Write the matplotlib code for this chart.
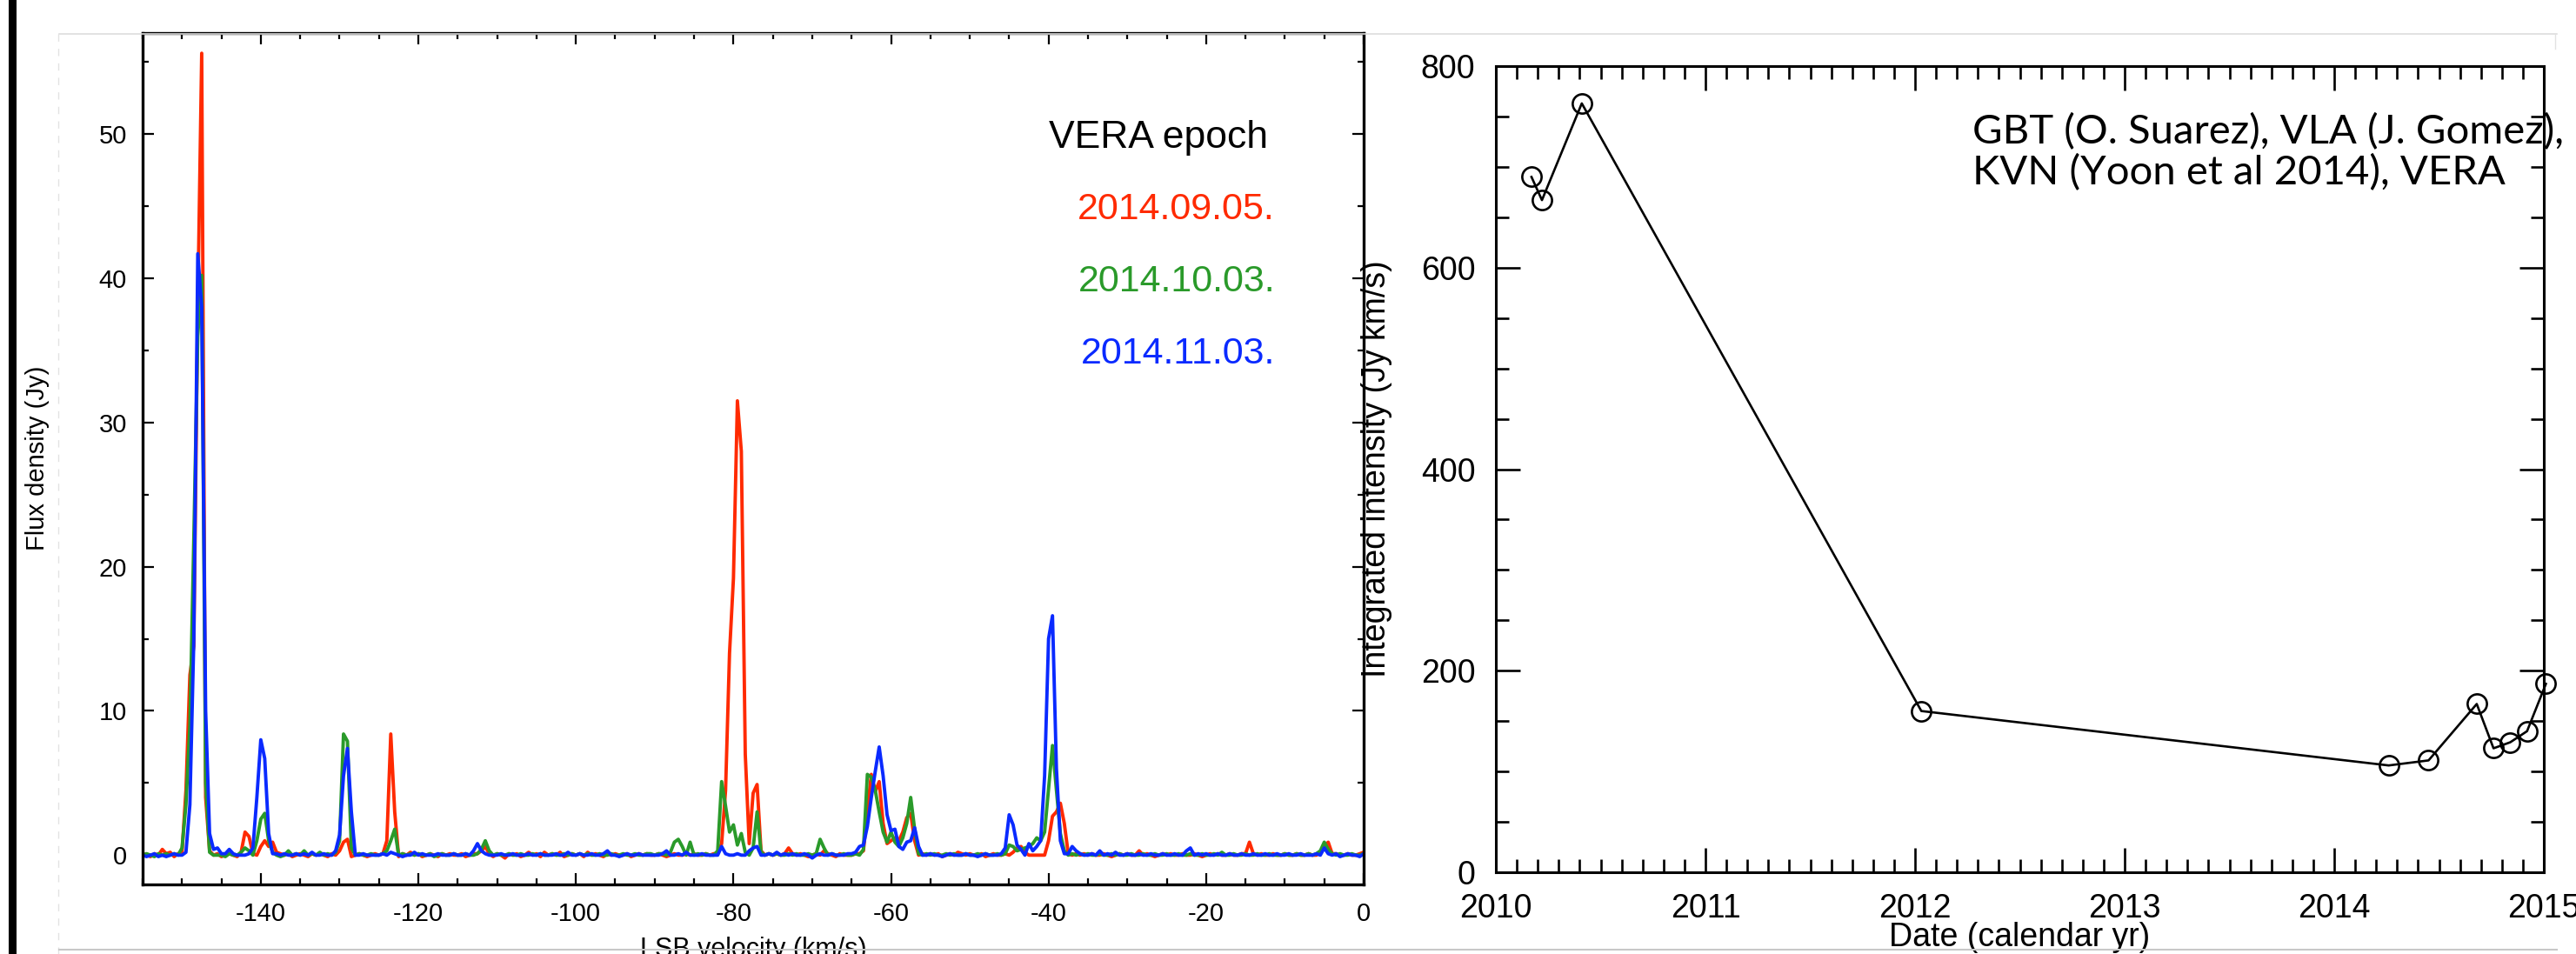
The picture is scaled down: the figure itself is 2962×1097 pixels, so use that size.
import numpy as np
import matplotlib
matplotlib.use("Agg")
import matplotlib.pyplot as plt
from matplotlib.ticker import MultipleLocator, FormatStrFormatter
from matplotlib.lines import Line2D

plt.rcParams['font.family'] = ['Liberation Sans', 'DejaVu Sans']
plt.rcParams['axes.unicode_minus'] = False

# --- left panel: VERA spectra (0.5 km/s channels from -155 to 0 km/s) ---
velocity = np.arange(-155.0, 0.01, 0.5)

flux_0905 = [
    0.1, 0.0, -0.1, 0.1, 0.0, 0.4, 0.1, 0.2, -0.1, 0.1,
    0.2, 4.5, 12.5, 14.5, 38.0, 55.6, 4.0, 0.3, 0.0, 0.1,
    -0.1, 0.0, 0.1, 0.0, -0.1, 0.2, 1.6, 1.3, 0.1, 0.0,
    0.6, 1.0, 0.6, 0.9, 0.2, 0.1, 0.0, 0.1, -0.1, 0.0,
    0.1, 0.0, -0.1, 0.1, 0.0, 0.1, 0.0, -0.1, 0.1, 0.0,
    0.3, 0.9, 1.1, -0.1, 0.0, 0.1, 0.0, -0.1, 0.0, 0.1,
    0.0, 0.1, 1.0, 8.4, 3.0, -0.1, 0.1, 0.0, 0.2, 0.0,
    0.1, -0.1, 0.0, 0.1, 0.0, -0.1, 0.1, 0.0, 0.1, 0.0,
    0.0, 0.1, -0.1, 0.0, 0.1, 0.1, 0.3, 0.6, 0.1, -0.1,
    0.1, 0.0, -0.2, 0.1, 0.0, 0.1, -0.1, 0.0, 0.2, 0.0,
    0.1, -0.1, 0.2, 0.0, 0.1, 0.0, 0.2, -0.1, 0.0, 0.1,
    0.0, 0.1, -0.1, 0.2, 0.0, 0.1, 0.0, -0.1, 0.1, 0.0,
    0.1, 0.0, 0.0, 0.1, -0.1, 0.0, 0.1, 0.0, 0.1, 0.0,
    0.0, 0.1, 0.0, -0.1, 0.0, 0.1, 0.0, 0.0, 0.1, 0.0,
    0.1, 0.0, 0.0, 0.1, 0.0, 0.1, 0.1, 0.8, 4.5, 14.0,
    19.2, 31.5, 28.0, 7.0, 0.8, 4.3, 4.9, 0.3, 0.0, 0.1,
    0.0, 0.1, 0.0, 0.1, 0.5, 0.1, 0.0, 0.1, 0.0, -0.1,
    0.0, 0.1, 0.0, 0.3, 0.1, 0.0, -0.1, 0.1, 0.0, 0.0,
    0.0, 0.1, 0.1, 0.3, 3.0, 5.6, 4.4, 5.1, 2.2, 0.8,
    1.0, 1.2, 1.0, 1.6, 2.6, 2.9, 1.0, 0.0, 0.1, 0.0,
    0.1, 0.0, 0.1, -0.1, 0.0, 0.1, 0.0, 0.2, 0.1, 0.0,
    0.1, 0.0, 0.0, 0.1, -0.1, 0.0, 0.1, 0.0, 0.0, 0.1,
    0.0, 0.2, 0.5, 0.6, 0.2, 0.0, 0.0, 0.0, 0.0, 0.0,
    1.0, 2.7, 3.0, 3.6, 2.2, 0.1, 0.0, 0.1, 0.0, 0.1,
    0.0, 0.1, 0.0, 0.0, 0.1, 0.0, -0.1, 0.0, 0.1, 0.0,
    0.1, 0.0, 0.0, 0.3, 0.0, 0.1, 0.0, -0.1, 0.0, 0.1,
    0.0, 0.1, 0.0, 0.0, 0.1, 0.0, 0.0, 0.1, 0.0, -0.1,
    0.0, 0.1, 0.0, 0.1, 0.0, 0.0, 0.1, 0.0, 0.0, 0.1,
    0.1, 0.9, 0.1, 0.0, 0.1, 0.0, 0.0, 0.1, 0.0, 0.0,
    0.1, 0.0, 0.0, 0.1, 0.0, 0.0, 0.1, 0.0, 0.0, 0.2,
    0.6, 0.9, 0.1, 0.1, 0.0, 0.0, 0.1, 0.0, 0.0, 0.1,
    0.2,
]

flux_1003 = [
    0.0, 0.1, 0.0, -0.1, 0.1, 0.0, 0.1, 0.0, 0.1, 0.0,
    0.5, 3.5, 9.0, 22.0, 36.0, 40.2, 5.0, 0.2, 0.0, 0.0,
    0.0, -0.1, 0.1, 0.0, 0.0, 0.2, 0.5, 0.3, 0.0, 1.0,
    2.5, 2.9, 1.0, 0.2, 0.0, -0.1, 0.0, 0.3, 0.0, 0.1,
    0.0, 0.3, 0.0, 0.1, 0.0, 0.2, 0.0, 0.1, 0.0, 0.2,
    1.0, 8.4, 7.9, 0.5, 0.0, 0.1, 0.0, 0.0, 0.1, 0.0,
    0.0, 0.1, 0.3, 1.0, 1.8, 0.0, 0.1, 0.0, 0.1, 0.0,
    0.1, 0.0, 0.0, 0.1, -0.1, 0.0, 0.1, 0.0, 0.0, 0.1,
    0.0, 0.0, 0.1, 0.0, 0.0, 0.1, 0.4, 1.0, 0.3, 0.0,
    0.1, 0.0, 0.0, 0.1, 0.0, 0.0, 0.1, 0.0, 0.0, 0.1,
    0.0, 0.1, 0.0, 0.0, 0.1, 0.0, 0.0, 0.1, 0.0, 0.1,
    0.0, 0.1, 0.0, 0.1, 0.0, 0.0, 0.1, 0.0, 0.0, 0.1,
    0.0, 0.0, 0.1, 0.0, 0.0, 0.1, 0.0, 0.0, 0.1, 0.1,
    0.0, 0.1, 0.1, 0.0, 0.2, 0.9, 1.1, 0.6, 0.0, 0.9,
    0.0, 0.1, 0.0, 0.1, 0.0, 0.0, 0.3, 5.1, 3.4, 1.6,
    2.1, 0.7, 1.5, 0.2, 0.0, 0.5, 3.0, 0.2, 0.0, 0.1,
    0.0, 0.1, 0.0, 0.0, 0.1, 0.0, 0.1, 0.0, 0.0, 0.1,
    0.0, 0.1, 1.1, 0.5, 0.0, 0.1, 0.0, 0.0, 0.1, 0.0,
    0.0, 0.1, 0.0, 0.4, 5.6, 5.4, 4.5, 3.0, 1.6, 0.9,
    1.6, 0.9, 0.6, 1.2, 2.2, 4.0, 1.8, 0.1, 0.0, 0.1,
    0.0, 0.1, 0.0, 0.0, 0.1, 0.0, 0.1, 0.0, 0.0, 0.1,
    0.0, 0.0, 0.1, 0.0, 0.1, 0.0, 0.0, 0.1, 0.0, 0.1,
    0.7, 0.6, 0.3, 0.4, 0.5, 0.6, 0.8, 1.2, 1.0, 1.6,
    4.6, 7.6, 4.5, 1.5, 0.3, 0.0, 0.1, 0.0, 0.1, 0.0,
    0.1, 0.0, 0.0, 0.1, 0.0, 0.0, 0.1, 0.0, 0.1, 0.0,
    0.0, 0.1, 0.0, 0.0, 0.1, 0.0, 0.0, 0.1, 0.0, 0.0,
    0.1, 0.0, 0.0, 0.1, 0.0, 0.0, 0.1, 0.0, 0.0, 0.1,
    0.0, 0.0, 0.1, 0.0, 0.2, 0.0, 0.0, 0.1, 0.0, 0.0,
    0.1, 0.0, 0.0, 0.1, 0.0, 0.0, 0.1, 0.0, 0.0, 0.0,
    0.1, 0.0, 0.0, 0.1, 0.0, 0.0, 0.1, 0.0, 0.1, 0.3,
    0.9, 0.4, 0.1, 0.0, 0.1, 0.0, 0.0, 0.1, 0.0, 0.0,
    0.1,
]

flux_1103 = [
    0.0, -0.1, 0.0, 0.1, -0.1, 0.0, -0.1, 0.0, 0.1, 0.0,
    0.0, 0.2, 3.5, 15.0, 41.7, 38.0, 10.0, 1.5, 0.4, 0.5,
    0.1, 0.1, 0.4, 0.1, 0.0, 0.0, 0.0, 0.1, 0.5, 4.0,
    8.0, 6.7, 1.5, 0.1, 0.1, 0.0, 0.1, 0.0, 0.0, 0.1,
    0.0, 0.1, 0.0, 0.2, 0.0, 0.0, 0.1, 0.0, 0.0, 0.3,
    1.4, 5.5, 7.4, 3.0, 0.0, 0.0, 0.1, 0.0, 0.0, 0.0,
    0.0, 0.1, 0.0, 0.2, 0.1, 0.0, -0.1, 0.0, 0.0, 0.2,
    0.0, 0.1, 0.0, 0.0, 0.0, 0.1, 0.0, 0.0, 0.0, 0.1,
    0.0, 0.0, 0.1, 0.0, 0.3, 0.8, 0.3, 0.1, 0.0, 0.0,
    0.0, 0.1, 0.0, 0.0, 0.1, 0.0, 0.0, 0.0, 0.1, 0.0,
    0.0, 0.1, 0.0, 0.0, 0.0, 0.1, 0.0, 0.0, 0.2, 0.0,
    0.0, 0.1, 0.0, 0.0, 0.1, 0.0, 0.0, 0.1, 0.3, 0.0,
    0.0, -0.1, 0.0, 0.1, 0.0, 0.0, 0.1, 0.0, 0.0, 0.0,
    0.0, 0.0, 0.1, 0.3, 0.0, 0.0, 0.1, 0.0, 0.2, 0.0,
    0.0, 0.0, 0.1, 0.0, 0.0, 0.0, 0.0, 0.6, 0.1, 0.0,
    0.0, 0.1, 0.0, 0.0, 0.3, 0.5, 0.6, 0.0, 0.0, 0.1,
    0.0, 0.2, 0.0, 0.1, 0.0, 0.1, 0.0, 0.0, 0.1, 0.0,
    -0.2, 0.0, 0.1, 0.0, 0.0, 0.1, 0.0, 0.0, 0.0, 0.1,
    0.1, 0.2, 0.6, 0.7, 2.0, 4.0, 5.8, 7.5, 5.5, 2.8,
    1.7, 1.8, 0.6, 0.4, 0.9, 1.0, 1.9, 0.6, 0.0, 0.0,
    0.1, 0.0, 0.0, -0.1, 0.0, 0.1, 0.0, 0.0, 0.0, 0.1,
    0.0, 0.0, -0.1, 0.0, 0.1, 0.0, 0.0, 0.0, 0.1, 0.5,
    2.8, 2.1, 0.7, 0.4, 0.0, 0.8, 0.3, 0.6, 1.0, 5.5,
    15.0, 16.6, 6.0, 1.0, 0.1, 0.1, 0.6, 0.3, 0.1, 0.0,
    0.0, 0.1, 0.0, 0.3, 0.0, 0.1, 0.0, 0.2, 0.0, 0.0,
    0.1, 0.0, 0.0, 0.1, 0.0, 0.0, 0.1, 0.0, 0.0, 0.1,
    0.0, 0.0, 0.1, 0.0, 0.0, 0.3, 0.5, 0.0, 0.1, 0.0,
    0.1, 0.0, 0.0, 0.1, 0.0, 0.0, 0.1, 0.0, 0.0, 0.1,
    0.0, 0.0, 0.1, 0.0, 0.0, 0.1, 0.0, 0.0, 0.1, 0.0,
    0.0, 0.1, 0.0, 0.0, 0.1, 0.0, 0.0, 0.0, 0.1, 0.0,
    0.5, 0.1, 0.0, 0.1, -0.1, 0.0, 0.1, 0.0, 0.0, -0.1,
    0.1,
]

epochs = ["2014.09.05.", "2014.10.03.", "2014.11.03."]
epoch_colors = ["#ff2a00", "#2a9a2a", "#0a2aff"]

# --- right panel: integrated intensity history ---
obs_year = [2010.17, 2010.22, 2010.41, 2012.03, 2014.26, 2014.45,
            2014.68, 2014.76, 2014.84, 2014.92, 2015.01]
integrated = [690, 667, 763, 160, 106, 111, 167, 123, 129, 140, 187]

W, H = 2962, 1097
fig = plt.figure(figsize=(W / 100, H / 100), dpi=100)

def px_axes(left, right, top, bottom):
    return fig.add_axes([left / W, 1 - bottom / H, (right - left) / W, (bottom - top) / H])

# slide decorations (frame around the pasted figures)
fig.add_artist(Line2D([14 / W, 14 / W], [0, 1], color="black", lw=6.5))
fig.add_artist(Line2D([68 / W, 2940 / W], [1 - 39 / H, 1 - 39 / H], color="#dddddd", lw=1.2))
fig.add_artist(Line2D([67 / W, 67 / W], [1 - 39 / H, 0.0], color="#e2e2e2", lw=1.0, ls=(0, (6, 6))))
fig.add_artist(Line2D([2938 / W, 2938 / W], [1 - 39 / H, 1 - 56 / H], color="#e2e2e2", lw=1.0))
fig.add_artist(Line2D([68 / W, 2940 / W], [1 - 1092 / H, 1 - 1092 / H], color="#c8c8c8", lw=1.5))

ax1 = px_axes(164, 1568, 38, 1016.5)
for flux, col in zip([flux_0905, flux_1003, flux_1103], epoch_colors):
    ax1.plot(velocity, flux, color=col, lw=2.8)

ax1.set_xlim(-155, 0)
ax1.set_ylim(-2, 57)
ax1.xaxis.set_major_locator(MultipleLocator(20))
ax1.xaxis.set_minor_locator(MultipleLocator(5))
ax1.yaxis.set_major_locator(MultipleLocator(10))
ax1.yaxis.set_minor_locator(MultipleLocator(5))
ax1.xaxis.set_major_formatter(FormatStrFormatter('%d'))
ax1.tick_params(which="both", direction="in", top=True, right=True, width=1.6)
ax1.tick_params(which="major", length=9.5, labelsize=21)
ax1.tick_params(axis="x", which="major", pad=15)
ax1.tick_params(axis="y", which="major", pad=13)
ax1.tick_params(which="minor", length=5)
for sp in ax1.spines.values():
    sp.set_linewidth(2.4)
ax1.set_ylabel("Flux density (Jy)", fontsize=21)
ax1.yaxis.set_label_coords(-0.076, 0.5)
ax1.set_xlabel("LSB velocity (km/s)", fontsize=22)
ax1.xaxis.set_label_coords(0.5, -0.062)

fig.text(1458 / W, 1 - 170 / H, "VERA epoch", fontsize=32, ha="right", va="baseline")
for i, (label, col) in enumerate(zip(epochs, epoch_colors)):
    fig.text(1466 / W, 1 - (252 + 83 * i) / H, label, color=col, fontsize=31,
             ha="right", va="baseline")

ax2 = px_axes(1720, 2925, 76, 1003)
ax2.plot(obs_year, integrated, color="black", lw=1.9, marker="o", markersize=16,
         markerfacecolor="none", markeredgecolor="black", markeredgewidth=1.9, clip_on=False)
ax2.set_xlim(2010, 2015)
ax2.set_ylim(0, 800)
ax2.xaxis.set_major_locator(MultipleLocator(1))
ax2.xaxis.set_minor_locator(MultipleLocator(0.1))
ax2.yaxis.set_major_locator(MultipleLocator(200))
ax2.yaxis.set_minor_locator(MultipleLocator(50))
ax2.xaxis.set_major_formatter(FormatStrFormatter('%d'))
ax2.tick_params(which="both", direction="in", top=True, right=True, width=1.9)
ax2.tick_params(which="major", length=20, labelsize=27, pad=17)
ax2.tick_params(which="minor", length=10.5)
for sp in ax2.spines.values():
    sp.set_linewidth(2.2)
ax2.set_ylabel("Integrated intensity (Jy km/s)", fontsize=27)
ax2.yaxis.set_label_coords(-0.099, 0.5)
ax2.set_xlabel("Date (calendar yr)", fontsize=27)
ax2.xaxis.set_label_coords(0.5, -0.062)

fig.text(2268 / W, 1 - 165 / H, "GBT (O. Suarez), VLA (J. Gomez),", fontsize=34,
         family=["Lato", "DejaVu Sans"], color="black", va="baseline")
fig.text(2268 / W, 1 - 212 / H, "KVN (Yoon et al 2014), VERA", fontsize=34,
         family=["Lato", "DejaVu Sans"], color="black", va="baseline")

fig.savefig("out.png", dpi=100)
